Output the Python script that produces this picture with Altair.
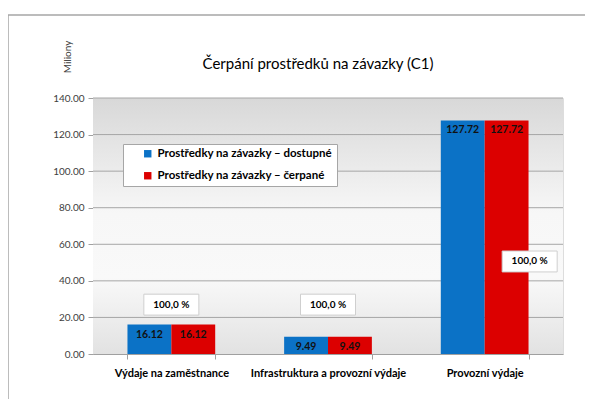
import altair as alt
import pandas as pd

categories = ["Výdaje na zaměstnance", "Infrastruktura a provozní výdaje", "Provozní výdaje"]
series_names = ["Prostředky na závazky – dostupné", "Prostředky na závazky – čerpané"]
available = [16.12, 9.49, 127.72]
spent = [16.12, 9.49, 127.72]
y_ticks = [0, 20, 40, 60, 80, 100, 120, 140]
title_text = "Čerpání prostředků na závazky (C1)"
unit_text = "Miliony"
colors = ["#0b72c6", "#dc0000"]

FONT = "Lato"
W, H = 470, 256

rows = []
for c, a, s in zip(categories, available, spent):
    rows.append({"cat": c, "series": series_names[0], "value": a})
    rows.append({"cat": c, "series": series_names[1], "value": s})
df = pd.DataFrame(rows)

pct = pd.DataFrame({
    "cat": categories,
    "label": [f"{s / a * 100:.1f} %".replace(".", ",") for a, s in zip(available, spent)],
    "ypos": [27.0, 27.0, 50.6],
})

xscale = alt.Scale(domain=categories, paddingInner=0.44, paddingOuter=0.22)
yscale = alt.Scale(domain=[0, 140], nice=False)

x_axis = alt.Axis(title=None, labelAngle=0, labelFont=FONT, labelFontWeight="bold",
                  labelFontSize=11, labelColor="#000000", labelPadding=8,
                  tickBand="extent", tickSize=5, tickColor="#a0a0a0",
                  domainColor="#a0a0a0", grid=False, labelLimit=300)
y_axis = alt.Axis(title=None, values=y_ticks, format=".2f", labelFont=FONT,
                  labelFontSize=10, labelColor="#404040", labelPadding=4,
                  labelOverlap=False, labelBound=False,
                  tickSize=5, tickColor="#a0a0a0", domainColor="#a0a0a0",
                  grid=False)

def xn():
    return alt.X("cat:N", scale=xscale, sort=categories, axis=x_axis)

def yq(field):
    return alt.Y(field, scale=yscale, axis=y_axis)

bg = alt.Chart(pd.DataFrame({"a": [0]})).mark_rect(
    color=alt.Gradient(gradient="linear", x1=0, y1=0, x2=0, y2=1, stops=[
        alt.GradientStop(color="#d8d8d8", offset=0),
        alt.GradientStop(color="#f7f7f7", offset=0.45),
        alt.GradientStop(color="#f9f9f9", offset=0.7),
        alt.GradientStop(color="#e2e2e2", offset=1),
    ])
).encode(x=alt.value(0), x2=alt.value(W), y=alt.value(0), y2=alt.value(H))

grid = alt.Chart(pd.DataFrame({"v": y_ticks[1:]})).mark_rule(color="#a6a6a6", strokeWidth=1).encode(
    y=yq("v:Q"), x=alt.value(0), x2=alt.value(W))

bars = alt.Chart(df).mark_bar(strokeWidth=0).encode(
    x=xn(),
    xOffset=alt.XOffset("series:N", sort=series_names, scale=alt.Scale(paddingInner=0)),
    y=yq("value:Q"),
    color=alt.Color("series:N", sort=series_names,
                    scale=alt.Scale(domain=series_names, range=colors),
                    legend=alt.Legend(title=None, orient="none", legendX=30, legendY=46,
                                      fillColor="#ffffff", strokeColor="#a6a6a6",
                                      padding=4, rowPadding=9, symbolType="square",
                                      symbolSize=55, symbolOffset=15, symbolStrokeWidth=0,
                                      labelFont=FONT, labelFontWeight="bold",
                                      labelFontSize=11.5, labelColor="#000000",
                                      labelLimit=400)),
)

values_text = alt.Chart(df).mark_text(
    font=FONT, fontWeight="bold", fontSize=10.5, color="#111111", baseline="middle", dy=10
).encode(
    x=xn(),
    xOffset=alt.XOffset("series:N", sort=series_names, scale=alt.Scale(paddingInner=0)),
    y=yq("value:Q"),
    text=alt.Text("value:Q", format=".2f"),
)

box_shape = "M-1,-0.38H1V0.38H-1Z"
box_size = 55 * 55

def pct_layer(data, xoff):
    box = alt.Chart(data).mark_point(
        shape=box_shape, size=box_size, filled=True, fill="#ffffff",
        stroke="#cfcfcf", strokeWidth=1, opacity=1, xOffset=xoff
    ).encode(x=xn(), y=yq("ypos:Q"))
    txt = alt.Chart(data).mark_text(
        font=FONT, fontWeight="bold", fontSize=10, color="#000000", xOffset=xoff
    ).encode(x=xn(), y=yq("ypos:Q"), text="label:N")
    return box + txt

pct12 = pct_layer(pct.iloc[:2], 0)
pct3 = pct_layer(pct.iloc[2:], 45)

title = alt.Chart(pd.DataFrame({"t": [title_text]})).mark_text(
    font=FONT, fontSize=15, color="#000000", baseline="middle"
).encode(text="t:N", x=alt.value(225), y=alt.value(-34))

unit = alt.Chart(pd.DataFrame({"t": [unit_text]})).mark_text(
    font=FONT, fontSize=10, color="#404040", angle=270, baseline="middle"
).encode(text="t:N", x=alt.value(-25), y=alt.value(-41))

frame_top = alt.Chart(pd.DataFrame({"a": [0]})).mark_rule(color="#a6a6a6", strokeWidth=1.5).encode(
    x=alt.value(-85), x2=alt.value(520), y=alt.value(-83), y2=alt.value(-83))
frame_left = alt.Chart(pd.DataFrame({"a": [0]})).mark_rule(color="#a6a6a6", strokeWidth=1.5).encode(
    x=alt.value(-85), x2=alt.value(-85), y=alt.value(-83), y2=alt.value(330))

chart = alt.layer(bg, grid, bars, values_text, pct12, pct3, title, unit, frame_top, frame_left).properties(
    width=W, height=H,
    autosize=alt.AutoSizeParams(type="none"),
    padding={"left": 85, "top": 90, "right": 22, "bottom": 45},
).configure_view(strokeWidth=0).configure_axisY(labelOverlap=False).configure(background="#ffffff")

chart.save("out.html", embed_options={"renderer": "svg", "actions": False})
